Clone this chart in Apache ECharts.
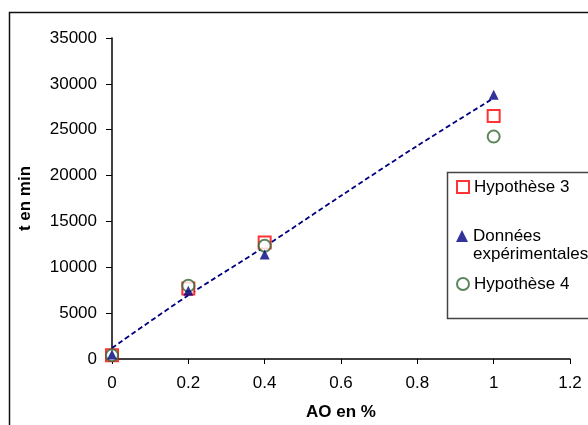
<!DOCTYPE html>
<html>
<head>
<meta charset="utf-8">
<script src="https://cdn.jsdelivr.net/npm/echarts@6/dist/echarts.min.js"></script>
<style>html,body{margin:0;padding:0;background:#fff}#c{width:588px;height:425px}</style>
</head>
<body>
<div id="c"></div>
<script>
var xValues = [0, 0.2, 0.4, 1];
var hyp3 = [400, 7700, 12700, 26500];
var donnees = [500, 7450, 11400, 28800];
var hyp4 = [400, 8000, 12350, 24250];
var trendX = [0, 0.2, 0.4, 0.6, 0.8, 1];
var trendY = [1200, 6950, 12250, 17800, 23250, 28450];
var xTicks = ['0', '0.2', '0.4', '0.6', '0.8', '1', '1.2'];
var yTicks = ['0', '5000', '10000', '15000', '20000', '25000', '30000', '35000'];

function pairs(xs, ys) { return xs.map(function (x, i) { return [x, ys[i]]; }); }

var chart = echarts.init(document.getElementById('c'), null, { renderer: 'canvas' });
var font = 'Liberation Sans, Arial, sans-serif';
var legendBase = {
  orient: 'vertical', left: 456, padding: 0, itemWidth: 12, itemHeight: 12,
  selectedMode: false,
  textStyle: { fontFamily: font, fontSize: 17, color: '#000', lineHeight: 18 }
};
chart.setOption({
  animation: false,
  backgroundColor: '#fff',
  grid: { left: 112, right: 18, top: 38, bottom: 66, containLabel: false, outerBoundsMode: 'none' },
  xAxis: {
    type: 'value', min: 0, max: 1.2, interval: 0.2,
    name: 'AO en %', nameLocation: 'middle', nameGap: 45,
    nameTextStyle: { fontFamily: font, fontSize: 17, fontWeight: 'bold', color: '#000' },
    axisLine: { show: true, onZero: false, lineStyle: { color: '#000', width: 1.5 } },
    axisTick: { show: true, length: 5, lineStyle: { color: '#000' } },
    axisLabel: { fontFamily: font, fontSize: 17, color: '#000', margin: 16,
      formatter: function (v) { var i = Math.round(v / 0.2); return xTicks[i]; } },
    splitLine: { show: false }
  },
  yAxis: {
    type: 'value', min: 0, max: 35000, interval: 5000,
    name: 't en min', nameLocation: 'middle', nameGap: 78, nameRotate: 90,
    nameTextStyle: { fontFamily: font, fontSize: 17, fontWeight: 'bold', color: '#000' },
    axisLine: { show: true, lineStyle: { color: '#000', width: 1.5 } },
    axisTick: { show: true, length: 6, lineStyle: { color: '#000' } },
    axisLabel: { fontFamily: font, fontSize: 17, color: '#000', margin: 15,
      formatter: function (v) { return yTicks[Math.round(v / 5000)]; } },
    splitLine: { show: false }
  },
  legend: [
    Object.assign({}, legendBase, { top: 178, data: ['Hypothèse 3'] }),
    Object.assign({}, legendBase, { top: 209, data: ['Données expérimentales'],
      formatter: function () { return ' \nDonnées\nexpérimentales'; } }),
    Object.assign({}, legendBase, { top: 275, data: ['Hypothèse 4'] })
  ],
  graphic: [
    { type: 'rect', z: -1, silent: true, shape: { x: 9.5, y: 12.5, width: 640, height: 500 },
      style: { fill: 'none', stroke: '#111', lineWidth: 1.5 } },
    { type: 'rect', z: 0, silent: true, shape: { x: 447.5, y: 172.5, width: 200, height: 146 },
      style: { fill: '#fff', stroke: '#444', lineWidth: 1.5 } }
  ],
  series: [
    { name: 'Tendance', type: 'line', data: pairs(trendX, trendY), smooth: 0.3,
      showSymbol: false, symbol: 'none', z: 1,
      lineStyle: { color: '#000080', width: 1.8, type: [5, 3] } },
    { name: 'Hypothèse 3', type: 'scatter', data: pairs(xValues, hyp3), symbol: 'emptyRect',
      symbolSize: 12, z: 2, itemStyle: { color: '#ff0000', borderColor: '#ff0000', borderWidth: 1 } },
    { name: 'Hypothèse 4', type: 'scatter', data: pairs(xValues, hyp4), symbol: 'emptyCircle',
      symbolSize: 12, z: 3, itemStyle: { color: '#336633', borderColor: '#336633', borderWidth: 1 } },
    { name: 'Données expérimentales', type: 'scatter', data: pairs(xValues, donnees), symbol: 'triangle',
      symbolSize: 10, z: 4, itemStyle: { color: '#000080' } }
  ]
});
</script>
</body>
</html>
